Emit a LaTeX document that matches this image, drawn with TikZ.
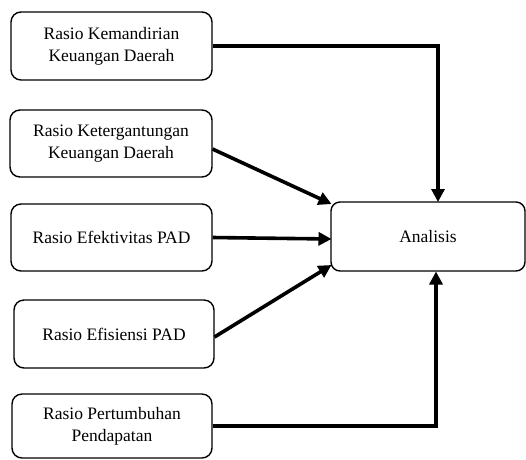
\documentclass[tikz,border=0pt]{standalone}
\usepackage{fontspec}
\setmainfont{Liberation Serif}
\usetikzlibrary{arrows.meta}
\begin{document}
\begin{tikzpicture}[x=1pt,y=1pt,
  box/.style={draw,line width=1.4pt,rounded corners=10pt,align=center,inner sep=0pt,
    font=\fontsize{17.5}{22}\selectfont},
  conn/.style={line width=3.6pt,-{Triangle[length=13pt,width=13pt]}}]
\useasboundingbox (0,0) rectangle (526,-459);
\node[box,minimum width=201pt,minimum height=68pt] (b1) at (111.5,-46) {Rasio Kemandirian\\Keuangan Daerah};
\node[box,minimum width=202pt,minimum height=67pt] (b2) at (111,-143.5) {Rasio Ketergantungan\\Keuangan Daerah};
\node[box,minimum width=201pt,minimum height=67pt] (b3) at (111.5,-237.5) {Rasio Efektivitas PAD};
\node[box,minimum width=200pt,minimum height=68pt] (b4) at (114,-334) {Rasio Efisiensi PAD};
\node[box,minimum width=200pt,minimum height=64pt] (b5) at (112,-426) {Rasio Pertumbuhan\\Pendapatan};
\node[box,rounded corners=9pt,minimum width=194pt,minimum height=69pt] (a) at (428,-236.5) {Analisis};
\coordinate (t1) at (438,-202);
\coordinate (t2) at (331.5,-204);
\coordinate (t3) at (331.5,-239);
\coordinate (t4) at (331.5,-265);
\coordinate (t5) at (436,-271.5);
\coordinate (s2) at (212.5,-149);
\coordinate (s4) at (214.5,-337);
\draw[conn] (b1.east) -| (t1);
\draw[conn] (s2) -- (t2);
\draw[conn] (b3.east) -- (t3);
\draw[conn] (s4) -- (t4);
\draw[conn] (b5.east) -| (t5);
\end{tikzpicture}
\end{document}
